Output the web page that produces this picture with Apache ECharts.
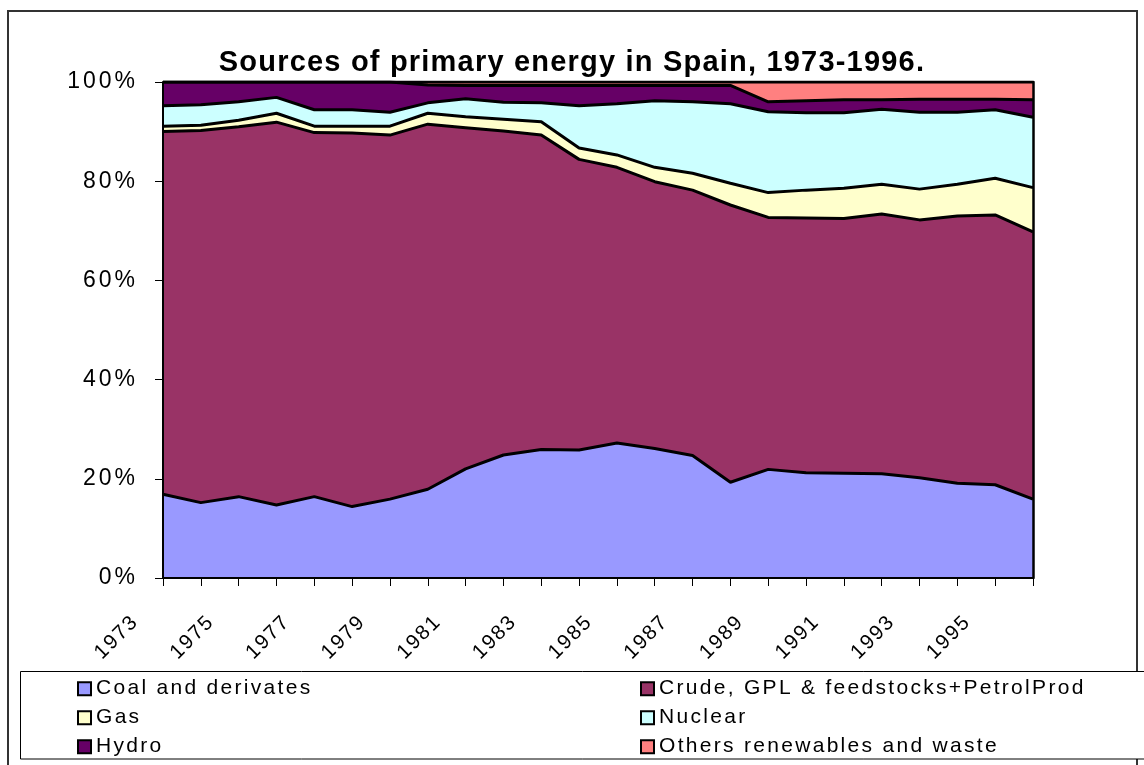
<!DOCTYPE html>
<html>
<head>
<meta charset="utf-8">
<script src="https://cdn.jsdelivr.net/npm/echarts@6/dist/echarts.min.js"></script>
<style>
html, body { margin: 0; padding: 0; background: #ffffff; }
#chart { width: 1144px; height: 765px; }
</style>
</head>
<body>
<div id="chart"></div>
<script>
// ---------------- data (percent shares) ----------------
const years = ['1973','1974','1975','1976','1977','1978','1979','1980','1981','1982','1983','1984',
               '1985','1986','1987','1988','1989','1990','1991','1992','1993','1994','1995','1996'];
const seriesNames = ['Coal and derivates', 'Crude, GPL & feedstocks+PetrolProd', 'Gas', 'Nuclear', 'Hydro', 'Others renewables and waste'];
const coal    = [16.9, 15.2, 16.4, 14.7, 16.4, 14.4, 15.9, 17.9, 22.0, 24.8, 25.9, 25.8, 27.2, 26.1, 24.7, 19.3, 21.9, 21.2, 21.1, 21.0, 20.2, 19.1, 18.8, 15.9];
const crude   = [73.1, 75.0, 74.6, 77.2, 73.4, 75.3, 73.4, 73.6, 68.8, 65.3, 63.4, 58.6, 55.6, 53.8, 53.5, 55.9, 50.8, 51.4, 51.4, 52.4, 52.0, 53.9, 54.4, 53.9];
const gas     = [1.1, 1.1, 1.3, 1.8, 1.3, 1.4, 1.8, 2.2, 2.2, 2.4, 2.7, 2.3, 2.5, 2.9, 3.4, 4.4, 5.0, 5.6, 6.1, 6.0, 6.2, 6.4, 7.4, 8.9];
const nuclear = [4.1, 4.1, 3.7, 3.2, 3.3, 3.3, 2.8, 2.1, 3.6, 3.4, 3.8, 8.5, 10.3, 13.4, 14.4, 16.0, 16.3, 15.6, 15.2, 15.1, 15.5, 14.5, 13.8, 14.2];
const hydro   = [4.8, 4.6, 4.0, 3.1, 5.6, 5.6, 6.1, 3.6, 2.7, 3.4, 3.5, 4.1, 3.7, 3.1, 3.3, 3.7, 2.0, 2.4, 2.6, 1.9, 2.6, 2.6, 2.1, 3.5];
const others  = [0, 0, 0, 0, 0, 0, 0, 0.6, 0.7, 0.7, 0.7, 0.7, 0.7, 0.7, 0.7, 0.7, 4.0, 3.8, 3.6, 3.6, 3.5, 3.5, 3.5, 3.6];
const yTicks  = [0, 20, 40, 60, 80, 100];

// ---------------- styling ----------------
const fills = ['#9999FF', '#993366', '#FFFFCC', '#CCFFFF', '#660066', '#FF8080'];
const seriesValues = [coal, crude, gas, nuclear, hydro, others];

// The reference text is letter-spaced; map font sizes to canvas letterSpacing.
const SPACING_BY_SIZE = { '29': 1.2, '23': 3, '21': 2.3, '20.5': 1.8 };
(function () {
  try {
    const proto = CanvasRenderingContext2D.prototype;
    const desc = Object.getOwnPropertyDescriptor(proto, 'font');
    if (!desc || !desc.set || !('letterSpacing' in proto)) return;
    Object.defineProperty(proto, 'font', {
      configurable: true,
      enumerable: desc.enumerable,
      get: function () { return desc.get.call(this); },
      set: function (v) {
        desc.set.call(this, v);
        const m = /(\d+(?:\.\d+)?)px/.exec(String(v));
        const s = (m && SPACING_BY_SIZE[m[1]] != null) ? SPACING_BY_SIZE[m[1]] : 0;
        try { this.letterSpacing = s + 'px'; } catch (e) {}
      }
    });
  } catch (e) {}
})();

const chart = echarts.init(document.getElementById('chart'), null, { renderer: 'canvas' });

const areaSeries = seriesValues.map((vals, i) => ({
  name: seriesNames[i],
  type: 'line',
  stack: 'areas',
  data: vals,
  symbol: 'none',
  showSymbol: false,
  color: fills[i],
  itemStyle: { color: fills[i] },
  lineStyle: { width: 0, color: fills[i] },
  areaStyle: { color: fills[i], opacity: 1 },
  z: 2,
  silent: true,
  emphasis: { disabled: true }
}));

const edgeSeries = seriesValues.map((vals, i) => ({
  name: 'edge-' + i,
  type: 'line',
  stack: 'edges',
  data: vals,
  symbol: 'none',
  showSymbol: false,
  lineStyle: { width: 3, color: '#000000' },
  z: 3,
  silent: true,
  emphasis: { disabled: true }
}));

// legend: one component per entry, laid out in two columns of three rows
const legendCols = [77, 640];
const legendRows = [677, 706, 735];
const legendOrder = [[0, 2, 4], [1, 3, 5]];
const legends = [];
legendOrder.forEach((col, c) => {
  col.forEach((si, r) => {
    legends.push({
      orient: 'horizontal',
      left: legendCols[c],
      top: legendRows[r],
      padding: 0,
      itemWidth: 13,
      itemHeight: 13,
      icon: 'rect',
      selectedMode: false,
      data: [seriesNames[si]],
      itemStyle: { borderColor: '#000000', borderWidth: 2 },
      textStyle: { fontSize: 21, fontFamily: 'Arial, "Liberation Sans", sans-serif', color: '#000000' }
    });
  });
});

const option = {
  animation: false,
  backgroundColor: '#ffffff',
  title: {
    text: 'Sources of primary energy in Spain, 1973-1996.',
    left: 'center',
    top: 48,
    padding: 0,
    textStyle: { fontSize: 29, fontWeight: 'bold', fontFamily: 'Arial, "Liberation Sans", sans-serif', color: '#000000' }
  },
  legend: legends,
  grid: { left: 163, top: 82, width: 870, height: 496, containLabel: false, outerBoundsMode: 'none' },
  xAxis: {
    type: 'category',
    data: years,
    boundaryGap: false,
    z: 10,
    axisLine: { show: true, onZero: false, lineStyle: { color: '#000000', width: 2 } },
    axisTick: { show: true, interval: 0, length: 8, lineStyle: { color: '#000000', width: 1 } },
    axisLabel: {
      interval: 1, rotate: 45, margin: 13, padding: [0, 39, 0, 0],
      fontSize: 20.5, fontFamily: 'Arial, "Liberation Sans", sans-serif', color: '#000000',
      hideOverlap: false
    },
    splitLine: { show: false }
  },
  yAxis: [
    {
      type: 'value',
      min: yTicks[0], max: yTicks[yTicks.length - 1], interval: yTicks[1] - yTicks[0],
      z: 10,
      axisLine: { show: true, lineStyle: { color: '#000000', width: 2 } },
      axisTick: { show: true, length: 8, lineStyle: { color: '#000000', width: 1 } },
      axisLabel: { formatter: '{value}%', margin: 25, fontSize: 23, fontFamily: 'Arial, "Liberation Sans", sans-serif', color: '#000000' },
      splitLine: { show: false }
    },
    {
      type: 'value',
      position: 'right',
      min: yTicks[0], max: yTicks[yTicks.length - 1], interval: yTicks[1] - yTicks[0],
      z: 10,
      axisLine: { show: true, lineStyle: { color: '#000000', width: 2.5 } },
      axisTick: { show: false },
      axisLabel: { show: false },
      splitLine: { show: false }
    }
  ],
  graphic: [
    { type: 'rect', silent: true, z: -10, shape: { x: 8, y: 11, width: 1129, height: 800 },
      style: { fill: 'none', stroke: '#333333', lineWidth: 2 } },
    { type: 'rect', silent: true, z: 1, shape: { x: 20.5, y: 671.5, width: 1200, height: 87.5 },
      style: { fill: '#ffffff', stroke: '#000000', lineWidth: 1 } }
  ],
  series: areaSeries.concat(edgeSeries)
};

chart.setOption(option);
</script>
</body>
</html>
